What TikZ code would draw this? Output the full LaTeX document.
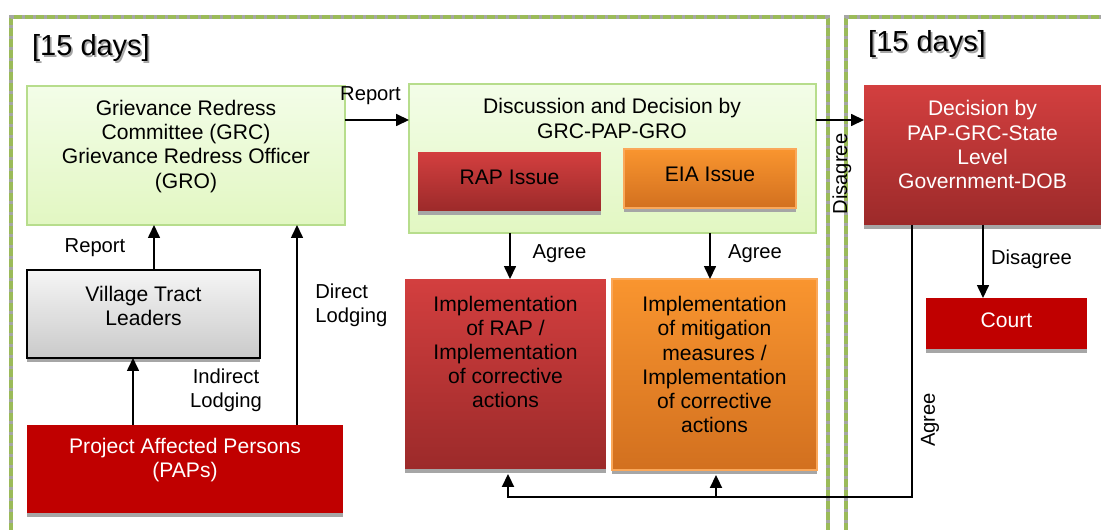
\documentclass[tikz,border=0pt]{standalone}
\usepackage{fontspec}
\setmainfont{Liberation Sans}
\usetikzlibrary{arrows.meta,shadows,positioning,calc}

\definecolor{framegreen}{HTML}{9BBB59}
\definecolor{framegrey}{HTML}{A6A6A6}
\definecolor{shadowgrey}{HTML}{A6A6A6}
\definecolor{greenline}{HTML}{B7DD8C}
\definecolor{greentop}{HTML}{F3FDE8}
\definecolor{greenbot}{HTML}{E2F7C2}
\definecolor{greytop}{HTML}{F5F5F5}
\definecolor{greybot}{HTML}{CACACA}
\definecolor{redtop}{HTML}{D33F3F}
\definecolor{redbot}{HTML}{9C2A2A}
\definecolor{orangetop}{HTML}{F9952F}
\definecolor{orangebot}{HTML}{D2701F}
\definecolor{orangeline}{HTML}{FAA85A}
\definecolor{darkred}{HTML}{C00000}

\newcommand{\shadowtxt}[1]{\rlap{\kern1pt\raisebox{-1.5pt}{\textcolor{shadowgrey}{#1}}}#1}

\begin{document}
\begin{tikzpicture}[
    x=0.02cm, y=-0.02cm,
    txt/.style={font=\fontsize{12}{13.7}\selectfont, align=center, inner sep=0pt},
    lbl/.style={font=\fontsize{11.5}{13.7}\selectfont, align=center, inner sep=0pt},
    days/.style={font=\fontsize{16.5}{18}\selectfont, inner sep=0pt},
    box/.style={rectangle, inner sep=0pt, outer sep=0pt},
    boxshadow/.style={general shadow={fill=shadowgrey, shadow yshift=-0.09cm}},
    greenbox/.style={box, draw=greenline, line width=0.8pt, top color=greentop, bottom color=greenbot},
    greybox/.style={box, draw=black, line width=1pt, top color=greytop, bottom color=greybot, boxshadow},
    redbox/.style={box, top color=redtop, bottom color=redbot, boxshadow},
    orangebox/.style={box, draw=orangeline, line width=0.8pt, top color=orangetop, bottom color=orangebot, boxshadow},
    darkbox/.style={box, fill=darkred, boxshadow},
    arr/.style={-{Triangle[length=0.26cm,width=0.24cm]}, line width=0.9pt},
    frameline/.style={line width=0.085cm, framegreen},
    framedash/.style={line width=0.085cm, framegrey, dash pattern=on 0.07cm off 0.15cm}
]
    \clip (0,0) rectangle (1101,530);

    % panels
    \draw [frameline] (11,545) -- (11,17) -- (828,17) -- (828,545);
    \draw [framedash] (11,545) -- (11,17) -- (828,17) -- (828,545);
    \draw [frameline] (846,545) -- (846,17) -- (1115,17);
    \draw [framedash] (846,545) -- (846,17) -- (1115,17);
    \node [days] (daysleft) at (91,49) {\shadowtxt{[15 days]}};
    \node [days] (daysright) at (927,45) {\shadowtxt{[15 days]}};

    % left panel
    \node [greenbox, minimum width=6.36cm, minimum height=2.78cm,
        label={[txt, yshift=0.18cm]center:{Grievance Redress\\Committee (GRC)\\Grievance Redress Officer\\(GRO)}}] (grc) at (186,155.5) {};
    \node [greybox, minimum width=4.66cm, minimum height=1.76cm,
        label={[txt, yshift=0.17cm]center:{Village Tract\\Leaders}}] (village) at (143.5,314) {};
    \node [darkbox, minimum width=6.32cm, minimum height=1.76cm,
        label={[txt, text=white, yshift=0.17cm]center:{Project Affected Persons\\(PAPs)}}] (paps) at (185,469) {};

    \node [greenbox, minimum width=8.14cm, minimum height=2.98cm] (disc) at (612.5,158.5) {};
    \node [txt] (disctitle) at (612,118.5) {Discussion and Decision by\\GRC-PAP-GRO};
    \node [redbox, minimum width=3.66cm, minimum height=1.18cm,
        label={[txt, yshift=0.09cm]center:{RAP Issue}}] (rapissue) at (509.5,181.5) {};
    \node [orangebox, minimum width=3.44cm, minimum height=1.18cm,
        label={[txt, yshift=0.09cm]center:{EIA Issue}}] (eiaissue) at (710,178.5) {};

    \node [redbox, minimum width=4.02cm, minimum height=3.8cm,
        label={[txt, yshift=0.44cm]center:{Implementation\\of RAP /\\Implementation\\of corrective\\actions}}] (implrap) at (505.5,374) {};
    \node [orangebox, minimum width=4.1cm, minimum height=3.82cm,
        label={[txt, yshift=0.2cm]center:{Implementation\\of mitigation\\measures /\\Implementation\\of corrective\\actions}}] (implmit) at (714.5,374.5) {};

    % right panel
    \node [redbox, minimum width=4.74cm, minimum height=2.8cm,
        label={[txt, text=white, yshift=0.21cm]center:{Decision by\\PAP-GRC-State\\Level\\Government-DOB}}] (decision) at (982.5,155) {};
    \node [darkbox, minimum width=3.22cm, minimum height=1.02cm,
        label={[txt, text=white, yshift=0.06cm]center:{Court}}] (court) at (1006.5,323.5) {};

    % labels
    \node [lbl] (lreportvil) at (95,248) {Report};
    \node [lbl] (lindirect) at (226,390.5) {Indirect\\Lodging};
    \node [lbl, align=left, anchor=west] (ldirect) at (315,305) {Direct\\Lodging};
    \node [lbl] (lreportgrc) at (370.5,96) {Report};
    \node [lbl] (lagreerap) at (559.5,254) {Agree};
    \node [lbl] (lagreemit) at (755,254) {Agree};
    \node [lbl, rotate=90] (ldisagreedisc) at (842,174) {Disagree};
    \node [lbl] (ldisagreedec) at (1031.5,259) {Disagree};
    \node [lbl, rotate=90] (lagreedec) at (930,420) {Agree};

    % connectors
    \draw [arr] (154,0 |- village.north) -- (154,0 |- grc.south);
    \draw [arr] (133,0 |- paps.north) -- (133,0 |- village.south);
    \draw [arr] (297,0 |- paps.north) -- (297,0 |- grc.south);
    \draw [arr] (grc.east |- 0,120) -- (disc.west |- 0,120);
    \draw [arr] (510,0 |- disc.south) -- (510,0 |- implrap.north);
    \draw [arr] (710,0 |- disc.south) -- (710,0 |- implmit.north);
    \draw [arr] (disc.east |- 0,120) -- (decision.west |- 0,120);
    \draw [arr] (983,0 |- decision.south) -- (983,0 |- court.north);

    \coordinate (agreecorner) at (912,497);
    \draw [arr, line width=1.2pt] (912,0 |- decision.south) -- (agreecorner) -- (508,0 |- agreecorner) -- ([yshift=-0.1cm]508,0 |- implrap.south);
    \draw [arr, line width=1.2pt] (716,0 |- agreecorner) -- ([yshift=-0.1cm]716,0 |- implmit.south);
\end{tikzpicture}
\end{document}
